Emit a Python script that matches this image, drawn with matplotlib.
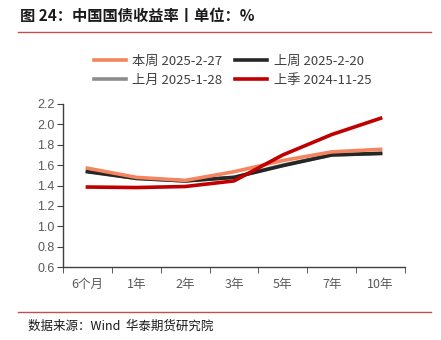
import numpy as np
import matplotlib
matplotlib.use("Agg")
from matplotlib import pyplot as plt
from matplotlib.lines import Line2D

plt.rcParams['font.family'] = ['Liberation Sans', 'Noto Sans CJK SC', 'DejaVu Sans']

# Data
tenors = ['6个月', '1年', '2年', '3年', '5年', '7年', '10年']
this_week = [1.57, 1.48, 1.45, 1.535, 1.645, 1.73, 1.755]
last_week = [1.535, 1.47, 1.445, 1.48, 1.595, 1.70, 1.715]
last_month = [1.54, 1.47, 1.445, 1.48, 1.60, 1.70, 1.715]
last_quarter = [1.385, 1.38, 1.39, 1.445, 1.70, 1.90, 2.06]

labels = ['本周 2025-2-27', '上周 2025-2-20', '上月 2025-1-28', '上季 2024-11-25']
colors = ['#F4855E', '#262626', '#8C8C8C', '#C00000']
yticks = [0.6, 0.8, 1.0, 1.2, 1.4, 1.6, 1.8, 2.0, 2.2]

fig = plt.figure(figsize=(4.41, 3.4), dpi=100)
ax = fig.add_axes([63 / 441, 1 - 267 / 340, 342 / 441, 163 / 340])

x = np.arange(len(tenors))
ax.plot(x, last_month, color=colors[2], lw=2.6, zorder=2)
ax.plot(x, last_week, color=colors[1], lw=2.6, zorder=3)
ax.plot(x, this_week, color=colors[0], lw=2.6, zorder=4)
ax.plot(x, last_quarter, color=colors[3], lw=2.6, zorder=5)

ax.set_xlim(-0.5, len(tenors) - 0.5)
ax.set_ylim(0.6, 2.2)
ax.set_yticks(yticks)
ax.set_yticklabels(['%.1f' % v for v in yticks])
ax.set_xticks(x)
ax.set_xticklabels(tenors)
ax.set_xticks(np.arange(-0.5, len(tenors)), minor=True)
ax.tick_params(axis='x', which='major', length=0, pad=8)
ax.tick_params(axis='x', which='minor', length=4, direction='out', color='#404040')
ax.tick_params(axis='y', length=4, direction='out', color='#404040', pad=2)
ax.tick_params(labelsize=9, labelcolor='#595959')
for lab in ax.get_xticklabels():
    lab.set_family(['Noto Sans CJK SC', 'DejaVu Sans'])
for s in ['top', 'right']:
    ax.spines[s].set_visible(False)
for s in ['left', 'bottom']:
    ax.spines[s].set_color('#404040')
    ax.spines[s].set_linewidth(1.0)

# Legend (column-major fill, so reorder for row layout)
order = [0, 2, 1, 3]
handles = [Line2D([0], [0], color=colors[i], lw=2.6) for i in order]
leg = fig.legend(handles, [labels[i] for i in order], ncol=2, loc='upper left',
                 bbox_to_anchor=(82 / 441, 1 - 43 / 340),
                 frameon=False, handlelength=2.4, columnspacing=1.0, labelspacing=0.45,
                 handletextpad=0.5, prop={'family': ['Noto Sans CJK SC', 'DejaVu Sans'], 'size': 9.5})
for t in leg.get_texts():
    t.set_color('#404040')

# Title and footer
fig.text(20 / 441, 1 - 16 / 340, '图 24：中国国债收益率丨单位：%', fontsize=11, fontweight='bold',
         family=['Noto Sans CJK SC', 'DejaVu Sans'], va='center', ha='left', color='#1a1a1a')
fig.add_artist(Line2D([18 / 441, 431 / 441], [1 - 32 / 340, 1 - 32 / 340], color='#C0504D', lw=1.0))
fig.add_artist(Line2D([18 / 441, 431 / 441], [1 - 312 / 340, 1 - 312 / 340], color='#C0504D', lw=1.0))
fig.text(28 / 441, 1 - 326 / 340, '数据来源：Wind  华泰期货研究院', fontsize=9,
         family=['Noto Sans CJK SC', 'DejaVu Sans'], va='center', ha='left', color='#1a1a1a')

fig.savefig('out.png', dpi=100)
